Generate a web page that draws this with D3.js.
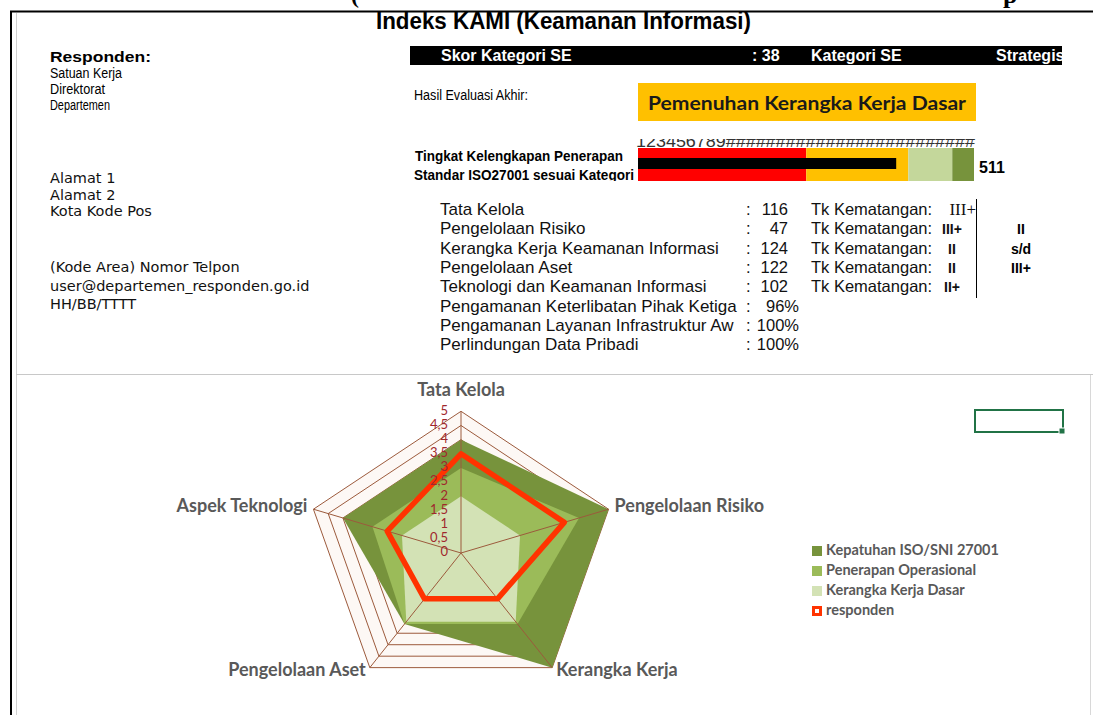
<!DOCTYPE html>
<html>
<head>
<meta charset="utf-8">
<script src="https://cdn.jsdelivr.net/npm/d3@7"></script>
<style>
  body { margin: 0; background: #fff; }
  svg text { font-family: "Liberation Sans", Arial, sans-serif; }
  .cal { font-family: Lato, "Open Sans", sans-serif; }
  .tah { font-family: "DejaVu Sans", Verdana, sans-serif; }
</style>
</head>
<body>
<div id="chart"></div>
<script>
// ---- data ----
const respondenLines = ["Satuan Kerja", "Direktorat", "Departemen"];
const alamatLines = ["Alamat 1", "Alamat 2", "Kota Kode Pos"];
const kontakLines = ["(Kode Area) Nomor Telpon", "user@departemen_responden.go.id", "HH/BB/TTTT"];

const skorKategori = 38;
const kategoriSE = "Strategis";
const hasilAkhir = "Pemenuhan Kerangka Kerja Dasar";

const totalSkor = 511;
const batasSkor = [0, 333, 535, 622, 665];
const warnaBatas = ["#FF0000", "#FFC000", "#C4D79B", "#77933C"];

const areaNama = ["Tata Kelola", "Pengelolaan Risiko", "Kerangka Kerja Keamanan Informasi",
  "Pengelolaan Aset", "Teknologi dan Keamanan Informasi",
  "Pengamanan Keterlibatan Pihak Ketiga", "Pengamanan Layanan Infrastruktur Awan",
  "Perlindungan Data Pribadi"];
const areaSkor = ["116", "47", "124", "122", "102", "96%", "100%", "100%"];
const tkKematangan = ["III+", "III+", "II", "II", "II+"];
const rentangKematangan = ["II", "s/d", "III+"];

const radarAxes = ["Tata Kelola", "Pengelolaan Risiko", "Kerangka Kerja", "Pengelolaan Aset", "Aspek Teknologi"];
const kepatuhanISO = [4, 5, 5, 3.1, 4];
const penerapanOps = [3, 4, 3.1, 3.1, 3];
const kerangkaDasar = [2, 2, 3, 3, 2];
const responden = [3.5, 3.5, 2, 2, 2.5];
const radarTicks = [0, 0.5, 1, 1.5, 2, 2.5, 3, 3.5, 4, 4.5, 5];

const seriesNames = ["Kepatuhan ISO/SNI 27001", "Penerapan Operasional", "Kerangka Kerja Dasar", "responden"];
const seriesColors = ["#77933C", "#9BBB59", "#D3E2B5", "#FF3300"];

// ---- svg ----
const W = 1093, H = 715;
const svg = d3.select("#chart").append("svg")
    .attr("width", W)
    .attr("height", H);
const defs = svg.append("defs");

function clip(id, x, y, w, h) {
  defs.append("clipPath").attr("id", id)
    .append("rect").attr("x", x).attr("y", y).attr("width", w).attr("height", h);
  return `url(#${id})`;
}

// cut caption of the page above
svg.append("text").attr("x", 351).attr("y", 3)
    .style("font-family", "'Liberation Serif', serif").style("font-weight", "bold")
    .style("font-size", "24px").text("(");
svg.append("text").attr("x", 1003).attr("y", 3)
    .style("font-family", "'Liberation Serif', serif").style("font-weight", "bold")
    .style("font-size", "26px").text("p");

// frame
svg.append("line").attr("x1", 10).attr("x2", W).attr("y1", 11.5).attr("y2", 11.5)
    .attr("stroke", "#000").attr("stroke-width", 2);
svg.append("line").attr("x1", 11).attr("x2", 11).attr("y1", 11).attr("y2", H)
    .attr("stroke", "#000").attr("stroke-width", 2);
svg.append("line").attr("x1", 16.5).attr("x2", 16.5).attr("y1", 13).attr("y2", H)
    .attr("stroke", "#d0d0d0");
svg.append("line").attr("x1", 16).attr("x2", W).attr("y1", 374.5).attr("y2", 374.5)
    .attr("stroke", "#c8c8c8");
svg.append("line").attr("x1", 1090.5).attr("x2", 1090.5).attr("y1", 375).attr("y2", H)
    .attr("stroke", "#d8d8d8");

// title
svg.append("text").attr("x", 376).attr("y", 29)
    .attr("textLength", 375).attr("lengthAdjust", "spacingAndGlyphs")
    .style("font-weight", "bold").style("font-size", "23px")
    .text("Indeks KAMI (Keamanan Informasi)");

// left block
svg.append("text").attr("x", 50).attr("y", 62)
    .attr("textLength", 101).attr("lengthAdjust", "spacingAndGlyphs")
    .style("font-weight", "bold").style("font-size", "15px").text("Responden:");
const respLen = [72, 55, 60];
svg.selectAll(".resp").data(respondenLines).join("text")
    .attr("x", 50).attr("y", (d, i) => 78 + i * 16)
    .style("font-size", "14px")
    .attr("textLength", (d, i) => respLen[i]).attr("lengthAdjust", "spacingAndGlyphs")
    .text(d => d);
svg.selectAll(".alamat").data(alamatLines).join("text")
    .attr("class", "tah")
    .attr("x", 50).attr("y", (d, i) => 183 + i * 16.5)
    .style("font-size", "14.5px").style("fill", "#111")
    .text(d => d);
svg.selectAll(".kontak").data(kontakLines).join("text")
    .attr("class", "tah")
    .attr("x", 50).attr("y", (d, i) => 272 + i * 18.5)
    .style("font-size", "14.5px").style("fill", "#111")
    .text(d => d);

// black header bar
svg.append("rect").attr("x", 410).attr("y", 46).attr("width", 652).attr("height", 19).attr("fill", "#000");
const hdr = svg.append("g").attr("clip-path", clip("hdrClip", 410, 46, 652, 19))
    .style("fill", "#fff").style("font-weight", "bold").style("font-size", "16px");
hdr.append("text").attr("x", 441).attr("y", 61).text("Skor Kategori SE");
hdr.append("text").attr("x", 752).attr("y", 61).text(": " + skorKategori);
hdr.append("text").attr("x", 811).attr("y", 61).text("Kategori SE");
hdr.append("text").attr("x", 996).attr("y", 61).text(kategoriSE);

svg.append("text").attr("x", 414).attr("y", 100)
    .attr("textLength", 114).attr("lengthAdjust", "spacingAndGlyphs")
    .style("font-size", "14px").text("Hasil Evaluasi Akhir:");

svg.append("rect").attr("x", 638).attr("y", 83).attr("width", 338).attr("height", 38).attr("fill", "#FFC000");
svg.append("text").attr("class", "cal").attr("x", 648).attr("y", 110)
    .attr("textLength", 318).attr("lengthAdjust", "spacingAndGlyphs")
    .style("font-weight", "bold").style("font-size", "19px").style("fill", "#1a1a1a")
    .text(hasilAkhir);

// bullet of total score
const xSkor = d3.scaleLinear().domain([0, batasSkor[batasSkor.length - 1]]).range([638, 974]);
svg.append("g").attr("clip-path", clip("hashClip", 600, 139, 420, 10))
  .append("text").attr("x", 636).attr("y", 147)
    .attr("textLength", 339).attr("lengthAdjust", "spacingAndGlyphs")
    .style("font-size", "16px").style("fill", "#333")
    .text("123456789" + "#".repeat(25));
svg.selectAll(".band").data(warnaBatas).join("rect")
    .attr("x", (d, i) => xSkor(batasSkor[i]))
    .attr("width", (d, i) => xSkor(batasSkor[i + 1]) - xSkor(batasSkor[i]))
    .attr("y", 148).attr("height", 33)
    .attr("fill", d => d);
svg.append("rect").attr("x", xSkor(0)).attr("y", 158)
    .attr("width", xSkor(totalSkor) - xSkor(0)).attr("height", 11).attr("fill", "#000");
svg.append("text").attr("x", 979).attr("y", 173)
    .style("font-weight", "bold").style("font-size", "16px").text(totalSkor);
const lbl = svg.append("g").attr("clip-path", clip("lblClip", 400, 150, 240, 31))
    .style("font-weight", "bold").style("font-size", "14px");
lbl.append("text").attr("x", 415).attr("y", 161)
    .attr("textLength", 208).attr("lengthAdjust", "spacingAndGlyphs").text("Tingkat Kelengkapan Penerapan");
lbl.append("text").attr("x", 414).attr("y", 180)
    .attr("textLength", 220).attr("lengthAdjust", "spacingAndGlyphs").text("Standar ISO27001 sesuai Kategori");

// table of areas
const rowY = i => 215 + i * 19.35;
const tbl = svg.append("g").style("font-size", "16.5px").style("fill", "#111");
// names are cut at the colon column, like an overflowing spreadsheet cell
tbl.selectAll(".nama").data(areaNama).join("text")
    .attr("x", 440).attr("y", (d, i) => rowY(i))
    .style("font-size", "17px").text(d => d)
    .each(function(d) {
      const t = d3.select(this);
      let s = d;
      while (this.getComputedTextLength() > 299 && s.length > 1) {
        s = s.slice(0, -1);
        t.text(s);
      }
    });
tbl.selectAll(".colon").data(areaSkor).join("text")
    .attr("x", 746).attr("y", (d, i) => rowY(i)).text(":");
tbl.selectAll(".val").data(areaSkor).join("text")
    .attr("x", d => d.endsWith("%") ? 799 : 788).attr("y", (d, i) => rowY(i))
    .attr("text-anchor", "end").text(d => d);
tbl.selectAll(".tk").data(tkKematangan).join("text")
    .attr("x", 811).attr("y", (d, i) => rowY(i)).text("Tk Kematangan:");
tbl.selectAll(".lvl").data(tkKematangan).join("text")
    .attr("x", (d, i) => i === 0 ? 976 : 952).attr("y", (d, i) => rowY(i))
    .attr("text-anchor", (d, i) => i === 0 ? "end" : "middle")
    .style("font-weight", (d, i) => i === 0 ? "normal" : "bold")
    .style("font-family", (d, i) => i === 0 ? "'Liberation Serif', serif" : null)
    .style("font-size", (d, i) => i === 0 ? "17px" : "14px")
    .text(d => d);
svg.append("line").attr("x1", 976.5).attr("x2", 976.5).attr("y1", 199).attr("y2", 298)
    .attr("stroke", "#000");
svg.selectAll(".rng").data(rentangKematangan).join("text")
    .attr("x", 1021).attr("y", (d, i) => rowY(i + 1))
    .attr("text-anchor", "middle")
    .style("font-weight", "bold").style("font-size", "14px")
    .text(d => d);

// ---- radar ----
const cx = 461, cy = 553, sx = 1.095;
const r = d3.scaleLinear().domain([0, 5]).range([0, 141.7]);
const ang = i => i * 2 * Math.PI / radarAxes.length;
const pt = (v, i) => [cx + sx * r(v) * Math.sin(ang(i)), cy - r(v) * Math.cos(ang(i))];
const poly = d3.line().curve(d3.curveLinearClosed);
const gridColor = "#9C5A3C";

const radar = svg.append("g");
radar.append("path")
    .attr("d", poly(radarAxes.map((a, i) => pt(5, i))))
    .attr("fill", "#FDF8F5");
radar.selectAll(".ring").data(radarTicks.slice(1)).join("path")
    .attr("d", t => poly(radarAxes.map((a, i) => pt(t, i))))
    .attr("fill", "none").attr("stroke", gridColor).attr("stroke-width", 1);

[kepatuhanISO, penerapanOps, kerangkaDasar].forEach((s, k) => {
  radar.append("path")
      .attr("d", poly(s.map(pt)))
      .attr("fill", seriesColors[k]);
});

radar.selectAll(".spoke").data(radarAxes).join("line")
    .attr("x1", cx).attr("y1", cy)
    .attr("x2", (d, i) => pt(5, i)[0]).attr("y2", (d, i) => pt(5, i)[1])
    .attr("stroke", gridColor).attr("stroke-width", 1);

radar.append("path")
    .attr("d", poly(responden.map(pt)))
    .attr("fill", "none").attr("stroke", seriesColors[3])
    .attr("stroke-width", 5.5).attr("stroke-linejoin", "round");

radar.selectAll(".tick").data(radarTicks).join("text")
    .attr("class", "cal")
    .attr("x", cx - 13).attr("y", t => cy - r(t))
    .attr("text-anchor", "end").attr("dominant-baseline", "middle")
    .style("font-size", "13px").style("fill", "#A0282D")
    .text(t => String(t).replace(".", ","));

const labelOff = [[0, -20, "middle"], [6, -2, "start"], [4, 4, "start"], [-4, 4, "end"], [-6, -2, "end"]];
radar.selectAll(".axlbl").data(radarAxes).join("text")
    .attr("class", "cal")
    .attr("x", (d, i) => pt(5, i)[0] + labelOff[i][0])
    .attr("y", (d, i) => pt(5, i)[1] + labelOff[i][1])
    .attr("text-anchor", (d, i) => labelOff[i][2])
    .attr("dominant-baseline", "middle")
    .style("font-weight", "bold").style("font-size", "18px").style("fill", "#595959")
    .text(d => d);

// legend
const leg = svg.append("g").attr("transform", "translate(812,551)");
const item = leg.selectAll("g").data(seriesNames).join("g")
    .attr("transform", (d, i) => `translate(0,${i * 20})`);
item.append("rect").attr("x", 0).attr("y", -5).attr("width", 10).attr("height", 10)
    .attr("fill", (d, i) => seriesColors[i]);
item.filter((d, i) => i === 3).append("rect")
    .attr("x", 3).attr("y", -2).attr("width", 4).attr("height", 4).attr("fill", "#fff");
item.append("text").attr("class", "cal")
    .attr("x", 14).attr("y", 0).attr("dominant-baseline", "middle")
    .style("font-weight", "bold").style("font-size", "14.5px").style("fill", "#595959")
    .text(d => d);

// selected cell marker
svg.append("rect").attr("x", 975).attr("y", 410).attr("width", 88).attr("height", 22)
    .attr("fill", "none").attr("stroke", "#217346").attr("stroke-width", 2);
svg.append("rect").attr("x", 1059).attr("y", 428).attr("width", 6).attr("height", 6)
    .attr("fill", "#217346").attr("stroke", "#fff").attr("stroke-width", 1);
</script>
</body>
</html>
